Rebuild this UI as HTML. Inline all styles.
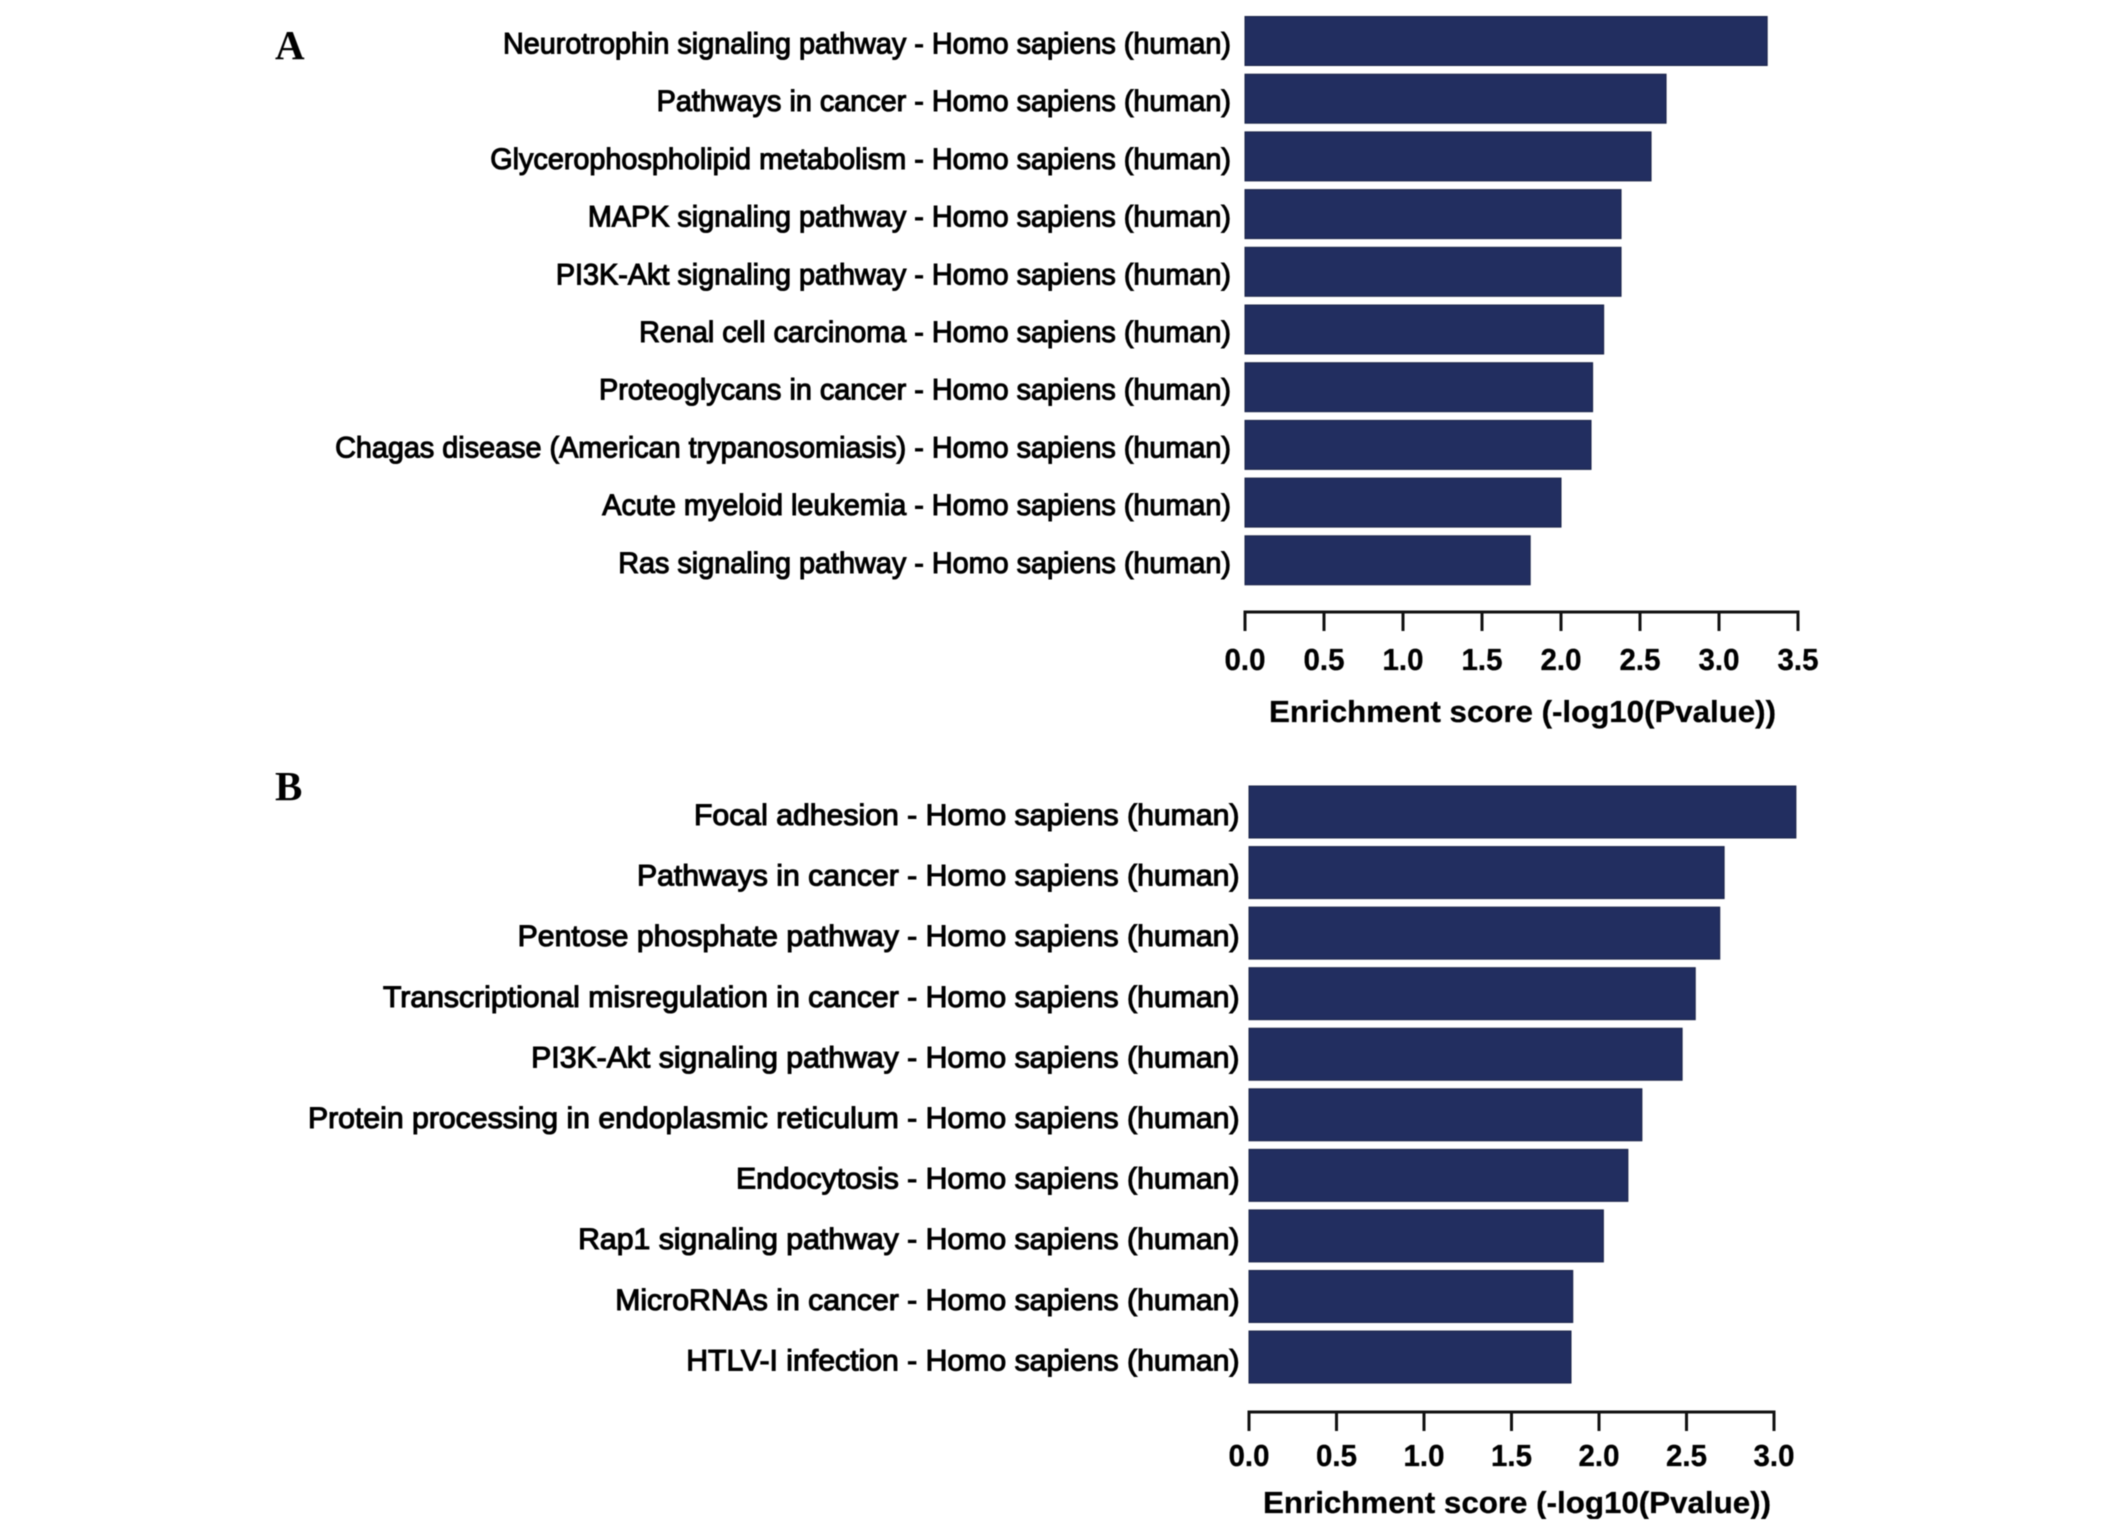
<!DOCTYPE html>
<html lang="en">
<head>
<meta charset="utf-8">
<title>KEGG pathway enrichment charts</title>
<style>
  html, body { margin: 0; padding: 0; background: #fff; }
  #figure { display: block; width: 2126px; height: 1538px; filter: blur(0.4px); }
  text { font-family: "Liberation Sans", Arial, sans-serif; fill: #000; }
</style>
</head>
<body>
<svg id="figure" xmlns="http://www.w3.org/2000/svg" width="2126" height="1538" viewBox="0 0 2126 1538">
  <text x="275" y="59" style="font-family:'Liberation Serif',serif;font-weight:bold;font-size:41px">A</text>
  <text x="275" y="800" style="font-family:'Liberation Serif',serif;font-weight:bold;font-size:41px">B</text>
  <g id="panel-a"></g>
  <g id="panel-b"></g>
  <rect x="1240" y="1519" width="560" height="19" fill="#fff"></rect>
</svg>
<script>
const categoriesA = [
  "Neurotrophin signaling pathway - Homo sapiens (human)",
  "Pathways in cancer - Homo sapiens (human)",
  "Glycerophospholipid metabolism - Homo sapiens (human)",
  "MAPK signaling pathway - Homo sapiens (human)",
  "PI3K-Akt signaling pathway - Homo sapiens (human)",
  "Renal cell carcinoma - Homo sapiens (human)",
  "Proteoglycans in cancer - Homo sapiens (human)",
  "Chagas disease (American trypanosomiasis) - Homo sapiens (human)",
  "Acute myeloid leukemia - Homo sapiens (human)",
  "Ras signaling pathway - Homo sapiens (human)"
];
const valuesA = [3.305, 2.665, 2.57, 2.38, 2.38, 2.27, 2.20, 2.19, 2.00, 1.805];
const ticksA = ["0.0", "0.5", "1.0", "1.5", "2.0", "2.5", "3.0", "3.5"];

const categoriesB = [
  "Focal adhesion - Homo sapiens (human)",
  "Pathways in cancer - Homo sapiens (human)",
  "Pentose phosphate pathway - Homo sapiens (human)",
  "Transcriptional misregulation in cancer - Homo sapiens (human)",
  "PI3K-Akt signaling pathway - Homo sapiens (human)",
  "Protein processing in endoplasmic reticulum - Homo sapiens (human)",
  "Endocytosis - Homo sapiens (human)",
  "Rap1 signaling pathway - Homo sapiens (human)",
  "MicroRNAs in cancer - Homo sapiens (human)",
  "HTLV-I infection - Homo sapiens (human)"
];
const valuesB = [3.125, 2.715, 2.69, 2.55, 2.475, 2.245, 2.165, 2.025, 1.85, 1.84];
const ticksB = ["0.0", "0.5", "1.0", "1.5", "2.0", "2.5", "3.0"];

const axisTitle = "Enrichment score (-log10(Pvalue))";

const SVG_NS = "http://www.w3.org/2000/svg";

function make(tag, parent, attrs) {
  const el = document.createElementNS(SVG_NS, tag);
  for (const k in attrs) el.setAttribute(k, attrs[k]);
  parent.appendChild(el);
  return el;
}

function drawPanel(root, categories, values, ticks, layout) {
  const xOf = v => layout.x0 + v * layout.unit;
  const rowTop = i => layout.barTop + i * layout.barStep;
  const labelY = i => layout.labelY + i * layout.labelStep;

  categories.forEach((name, i) => {
    const label = make("text", root, {
      transform: "translate(" + layout.labelX + "," + labelY(i) + ") scale(" + layout.labelSx + ",1)",
      "text-anchor": "end",
      "font-size": 30,
      stroke: "#000",
      "stroke-width": 1.1
    });
    
    
    label.textContent = name;

    const bar = make("rect", root, {
      x: xOf(0),
      y: rowTop(i),
      width: xOf(values[i]) - xOf(0),
      height: layout.barHeight,
      fill: "#222e60",
      stroke: "#1a2348",
      "stroke-width": 1
    });
    
    
  });

  const tickValue = t => parseFloat(t);
  const axis = make("line", root, {
    x1: xOf(tickValue(ticks[0])),
    x2: xOf(tickValue(ticks[ticks.length - 1])),
    y1: layout.axisY,
    y2: layout.axisY,
    stroke: "#111",
    "stroke-width": 3,
    "stroke-linecap": "square"
  });
  
  

  ticks.forEach(t => {
    const x = xOf(tickValue(t));
    const tick = make("line", root, {
      x1: x, x2: x,
      y1: layout.axisY,
      y2: layout.axisY + 19,
      stroke: "#111",
      "stroke-width": 3
    });
    
    

    const lab = make("text", root, {
      transform: "translate(" + x + "," + layout.tickY + ") scale(0.95,1)",
      "text-anchor": "middle",
      "font-size": 31,
      "font-weight": "bold",
      stroke: "#000",
      "stroke-width": 0.3
    });
    
    
    lab.textContent = t;
  });

  const title = make("text", root, {
    x: layout.titleX,
    y: layout.titleY,
    "font-size": 31,
    "font-weight": "bold",
    stroke: "#000",
    "stroke-width": 0.3,
    textLength: layout.titleW,
    lengthAdjust: "spacingAndGlyphs"
  });
  
  
  title.textContent = axisTitle;
}

drawPanel(document.getElementById("panel-a"), categoriesA, valuesA, ticksA, {
  x0: 1245, unit: 158,
  barTop: 16.5, barStep: 57.7, barHeight: 49,
  labelX: 1231, labelY: 53.5, labelStep: 57.7, labelSx: 0.96,
  axisY: 612, tickY: 670,
  titleX: 1269, titleY: 722, titleW: 507
});

drawPanel(document.getElementById("panel-b"), categoriesB, valuesB, ticksB, {
  x0: 1249, unit: 175,
  barTop: 786, barStep: 60.56, barHeight: 52,
  labelX: 1239.5, labelY: 825, labelStep: 60.6, labelSx: 1.007,
  axisY: 1412, tickY: 1466,
  titleX: 1263, titleY: 1513, titleW: 508
});
</script>
</body>
</html>
